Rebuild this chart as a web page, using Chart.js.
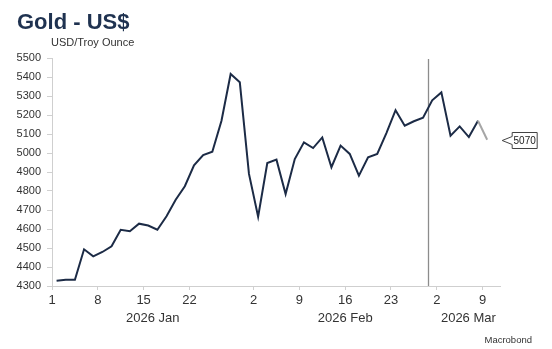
<!DOCTYPE html>
<html>
<head>
<meta charset="utf-8">
<script src="https://cdn.jsdelivr.net/npm/chart.js@4"></script>
<style>
  body { margin: 0; background: #fff; }
  #wrap { width: 552px; height: 349px; }
</style>
</head>
<body>
<div id="wrap"><canvas id="goldChart" width="552" height="349"></canvas></div>
<script>
// trading days (MM-DD, 2026)
const days = [
  "01-02", "01-05", "01-06", "01-07", "01-08", "01-09",
  "01-12", "01-13", "01-14", "01-15", "01-16",
  "01-19", "01-20", "01-21", "01-22", "01-23",
  "01-26", "01-27", "01-28", "01-29", "01-30",
  "02-02", "02-03", "02-04", "02-05", "02-06",
  "02-09", "02-10", "02-11", "02-12", "02-13",
  "02-16", "02-17", "02-18", "02-19", "02-20",
  "02-23", "02-24", "02-25", "02-26", "02-27",
  "03-02", "03-03", "03-04", "03-05", "03-06",
  "03-09", "03-10"
];
const gold = [
  4328, 4333, 4333, 4493, 4456, 4479,
  4509, 4596, 4588, 4628, 4618,
  4596, 4667, 4754, 4825, 4935,
  4989, 5007, 5170, 5416, 5372,
  4890, 4665, 4947, 4965, 4784,
  4968, 5056, 5026, 5082, 4925,
  5039, 4995, 4881, 4977, 4995,
  5105, 5225, 5144, 5167, 5186,
  5277, 5319, 5091, 5140, 5084,
  5170, 5070
];
const tickDays = ["01-01", "01-08", "01-15", "01-22", "02-02", "02-09", "02-16", "02-23", "03-02", "03-09"];
const tickLabels = ["1", "8", "15", "22", "2", "9", "16", "23", "2", "9"];
const monthStarts = ["01-01", "02-02", "03-02"];
const monthLabels = ["2026 Jan", "2026 Feb", "2026 Mar"];
const yTicks = [4300, 4400, 4500, 4600, 4700, 4800, 4900, 5000, 5100, 5200, 5300, 5400, 5500];
const markerDay = "02-27";

const font = "'Liberation Sans', Arial, sans-serif";
const navy = "#1c2b46";

// tick marks sit on day boundaries, half a slot right of the point
const dayPos = d => days.indexOf(d) + 0.5;
const xMin = -0.5;
const xMax = 48.4;
const tickPos = tickDays.map(dayPos);
const monthPos = monthStarts.map((d, i) => {
  const a = i === 0 ? xMin : dayPos(d);
  const b = i < monthStarts.length - 1 ? dayPos(monthStarts[i + 1]) : xMax;
  return (a + b) / 2;
});

const extras = {
  id: "extras",
  beforeDatasetsDraw(chart) {
    const { ctx, chartArea, scales } = chart;
    const vx = Math.round(scales.x.getPixelForValue(dayPos(markerDay))) + 0.5;
    ctx.save();
    ctx.strokeStyle = "#8c8c8c";
    ctx.lineWidth = 1.3;
    ctx.beginPath();
    ctx.moveTo(vx, chartArea.top + 1);
    ctx.lineTo(vx, chartArea.bottom);
    ctx.stroke();
    ctx.restore();
  },
  afterDraw(chart) {
    const { ctx, scales } = chart;
    ctx.save();
    // title + unit
    ctx.fillStyle = "#1f3250";
    ctx.font = "bold 22px " + font;
    ctx.textBaseline = "alphabetic";
    ctx.fillText("Gold - US$", 17, 28.5);
    ctx.fillStyle = "#333";
    ctx.font = "11px " + font;
    ctx.fillText("USD/Troy Ounce", 51, 46);
    // source
    ctx.font = "9.5px " + font;
    ctx.textAlign = "right";
    ctx.fillText("Macrobond", 532, 343);

    // last value callout
    const last = gold.length - 1;
    const px = scales.x.getPixelForValue(last);
    const py = Math.round(scales.y.getPixelForValue(gold[last])) + 0.5;
    const tip = px + 15;
    const bx = tip + 10, bw = 25, bh = 16;
    ctx.strokeStyle = "#444";
    ctx.fillStyle = "#fff";
    ctx.lineWidth = 1;
    ctx.beginPath();
    ctx.moveTo(bx, py - bh / 2);
    ctx.lineTo(bx + bw, py - bh / 2);
    ctx.lineTo(bx + bw, py + bh / 2);
    ctx.lineTo(bx, py + bh / 2);
    ctx.lineTo(bx, py + 4);
    ctx.lineTo(tip, py);
    ctx.lineTo(bx, py - 4);
    ctx.closePath();
    ctx.fill();
    ctx.stroke();
    ctx.fillStyle = "#222";
    ctx.font = "10px " + font;
    ctx.textAlign = "center";
    ctx.textBaseline = "middle";
    ctx.fillText(String(gold[last]), bx + bw / 2, py + 0.5);
    ctx.restore();
  }
};

new Chart(document.getElementById("goldChart"), {
  type: "line",
  data: {
    datasets: [{
      label: "Gold",
      data: gold.map((v, i) => ({ x: i, y: v })),
      borderColor: navy,
      borderWidth: 2,
      pointRadius: 0,
      tension: 0,
      segment: {
        borderColor: c => (c.p1DataIndex === gold.length - 1 ? "#a6a6a6" : navy)
      }
    }]
  },
  options: {
    responsive: false,
    animation: false,
    layout: { padding: { top: 58, left: 0, right: 52, bottom: 23 } },
    plugins: {
      legend: { display: false },
      tooltip: { enabled: false }
    },
    scales: {
      x: {
        type: "linear",
        position: "bottom",
        min: xMin,
        max: xMax,
        afterBuildTicks: s => { s.ticks = tickPos.map(v => ({ value: v })); },
        afterFit: s => { s.height = 22; },
        grid: { drawOnChartArea: false, drawTicks: true, tickLength: 4, color: "#d0d0d0" },
        border: { display: true, color: "#cfcfcf", width: 1 },
        ticks: {
          autoSkip: false,
          maxRotation: 0,
          padding: 3,
          color: "#333",
          font: { family: font, size: 13 },
          callback: (v, i) => tickLabels[i]
        }
      },
      x2: {
        type: "linear",
        position: "bottom",
        min: xMin,
        max: xMax,
        afterBuildTicks: s => { s.ticks = monthPos.map(v => ({ value: v })); },
        afterFit: s => { s.height = 18; },
        grid: { display: false, drawTicks: false },
        border: { display: false },
        ticks: {
          autoSkip: false,
          maxRotation: 0,
          padding: 3,
          color: "#333",
          font: { family: font, size: 13 },
          callback: (v, i) => monthLabels[i]
        }
      },
      y: {
        min: 4300,
        max: 5500,
        afterBuildTicks: s => { s.ticks = yTicks.map(v => ({ value: v })); },
        afterFit: s => { s.width = 52; },
        grid: { drawOnChartArea: false, drawTicks: true, tickLength: 5, color: "#d0d0d0" },
        border: { display: true, color: "#cfcfcf", width: 1 },
        ticks: {
          autoSkip: false,
          padding: 6,
          color: "#333",
          font: { family: font, size: 11 },
          callback: v => String(v)
        }
      }
    }
  },
  plugins: [extras]
});
</script>
</body>
</html>
